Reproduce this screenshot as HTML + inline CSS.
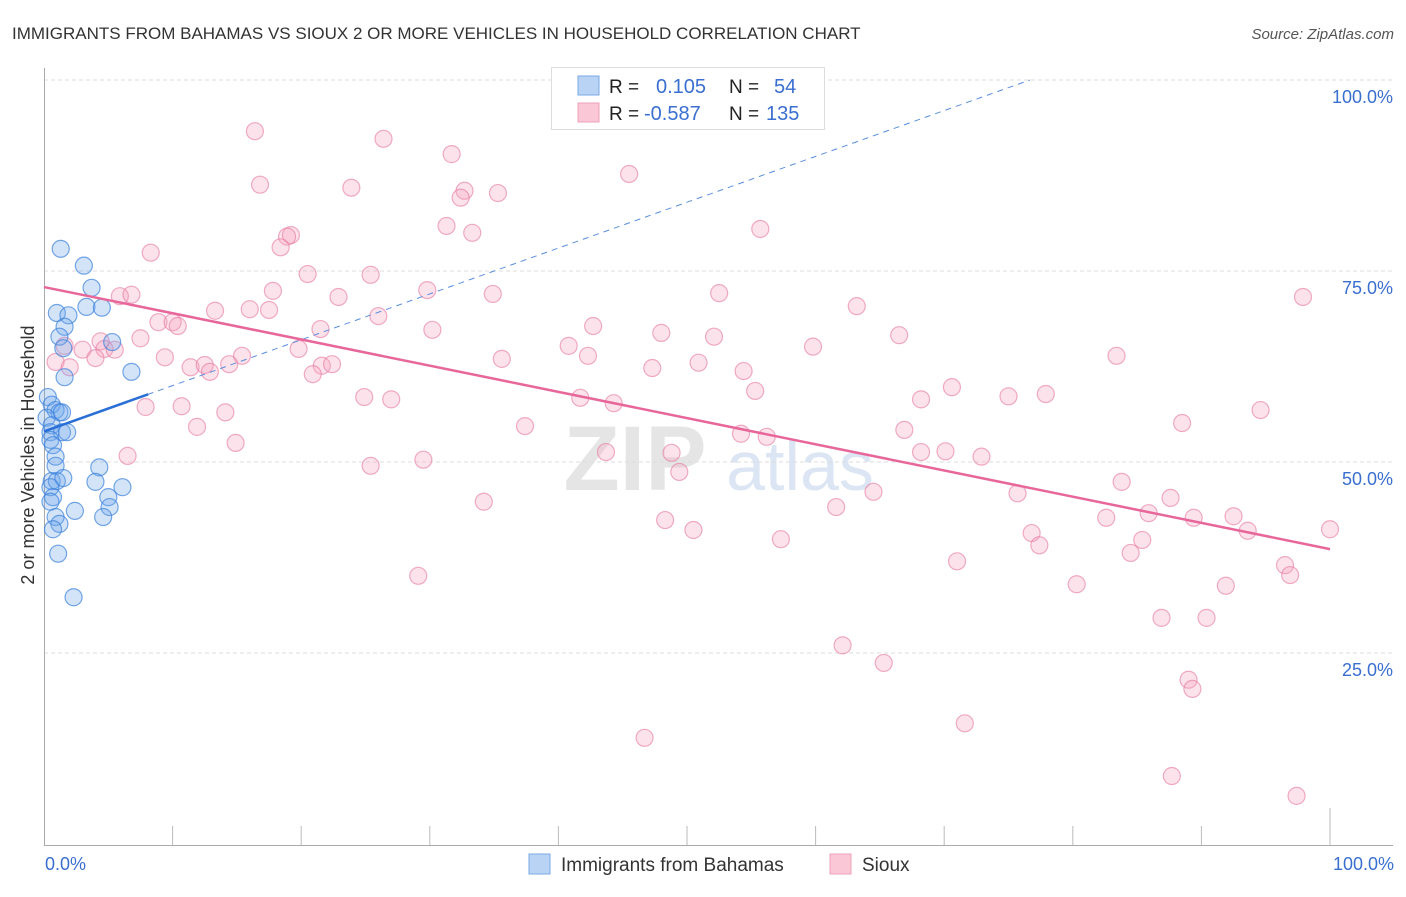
<!DOCTYPE html>
<html><head><meta charset="utf-8"><style>
body{margin:0;background:#fff;font-family:"Liberation Sans",sans-serif}
svg text{font-family:"Liberation Sans",sans-serif}
</style></head><body>
<svg id="chart" width="1406" height="892" viewBox="0 0 1406 892" xmlns="http://www.w3.org/2000/svg">
<text x="12" y="39" font-size="17" fill="#333">IMMIGRANTS FROM BAHAMAS VS SIOUX 2 OR MORE VEHICLES IN HOUSEHOLD CORRELATION CHART</text>
<text x="1394" y="39" font-size="15" fill="#555" font-style="italic" text-anchor="end">Source: ZipAtlas.com</text>
<g opacity="0.5">
<text x="635" y="490" font-size="92" font-family="Liberation Serif" fill="#ccc" font-weight="bold" text-anchor="middle">ZIP</text>
<text x="800" y="490" font-size="70" fill="#b8cde8" text-anchor="middle">atlas</text>
</g>
<g id="grid"></g>
<g id="axes"></g>
<g id="pts"></g>
<g id="trend"></g>
<text transform="translate(34,455) rotate(-90)" font-size="18" fill="#333" text-anchor="middle">2 or more Vehicles in Household</text>
<text x="45" y="870" font-size="18" fill="#3a6fd0">0.0%</text>
<text x="1394" y="870" font-size="18" fill="#3a6fd0" text-anchor="end">100.0%</text>
<g>
<rect x="551.5" y="67.5" width="273" height="62" fill="#fff" stroke="#ddd"/>
<rect x="578" y="76" width="21" height="19" fill="#b9d3f5" stroke="#7aa8e6"/>
<rect x="578" y="103" width="21" height="19" fill="#fac7d6" stroke="#eea0b8"/>
<text x="609" y="93" font-size="19" fill="#222">R =</text>
<text x="656" y="93" font-size="20" fill="#3a6fd0">0.105</text>
<text x="729" y="93" font-size="19" fill="#222">N =</text>
<text x="774" y="93" font-size="20" fill="#3a6fd0">54</text>
<text x="609" y="120" font-size="19" fill="#222">R =</text>
<text x="644" y="120" font-size="20" fill="#3a6fd0">-0.587</text>
<text x="729" y="120" font-size="19" fill="#222">N =</text>
<text x="766" y="120" font-size="20" fill="#3a6fd0">135</text>
</g>
<g>
<rect x="529" y="854" width="21" height="20" fill="#b9d3f5" stroke="#7aa8e6"/>
<text x="561" y="871" font-size="19" fill="#333">Immigrants from Bahamas</text>
</g>
<g>
<rect x="830" y="854" width="21" height="20" fill="#fac7d6" stroke="#eea0b8"/>
<text x="862" y="871" font-size="19" fill="#333">Sioux</text>
</g>
</svg>
<script>
const yTicks=[25,50,75,100];
const yTickLabels=["25.0%","50.0%","75.0%","100.0%"];
const blueX=[1.3,3.1,3.7,3.3,4.5,1.0,1.9,1.6,1.2,5.3,1.5,1.6,6.8,0.3,0.6,0.9,1.2,0.2,1.4,0.6,0.5,1.4,1.8,0.5,0.7,0.9,4.3,0.9,0.6,1.0,1.5,4.0,6.1,0.5,0.7,0.5,5.0,5.1,2.4,0.9,4.6,1.2,0.7,1.1,2.3];
const blueY=[77.9,75.7,72.8,70.3,70.2,69.5,69.2,67.7,66.4,65.7,64.9,61.1,61.8,58.5,57.5,56.8,56.5,55.8,56.5,54.8,53.9,53.9,53.9,52.9,52.2,50.7,49.3,49.5,47.5,47.5,47.9,47.4,46.7,46.7,45.4,44.8,45.4,44.1,43.6,42.8,42.8,41.9,41.2,38.0,32.3];
const pinkX=[16.4,26.4,31.7,45.5,16.8,23.9,32.7,35.3,32.4,31.3,33.3,55.7,19.2,18.9,18.4,8.3,20.5,25.4,29.8,17.8,5.9,6.8,22.9,34.9,52.5,97.9,63.2,13.3,16.0,17.5,26.0,8.9,10.0,10.4,21.5,30.2,42.7,48.0,52.1,66.5,7.5,4.4,1.6,3.0,4.7,5.5,19.8,40.8,59.8,42.3,83.4,9.4,15.4,0.9,2.0,4.0,11.4,12.5,12.9,14.4,21.6,22.4,35.6,47.3,50.9,54.4,20.9,70.6,55.3,24.9,27.0,68.2,75.0,77.9,44.3,7.9,10.7,14.1,41.7,94.6,37.4,11.9,66.9,88.5,54.2,56.2,14.9,25.4,29.5,43.7,68.2,70.1,72.9,6.5,48.8,49.4,83.8,64.5,75.7,34.2,87.6,82.6,85.9,92.5,89.4,48.3,50.5,61.6,93.6,100.0,76.8,77.4,57.3,85.4,84.5,71.0,96.5,96.9,29.1,80.3,91.9,86.9,90.4,62.1,65.3,89.0,89.3,71.6,46.7,87.7,97.4];
const pinkY=[93.3,92.3,90.3,87.7,86.3,85.9,85.5,85.2,84.6,80.9,80.0,80.5,79.7,79.5,78.1,77.4,74.6,74.5,72.5,72.4,71.7,71.9,71.6,72.0,72.1,71.6,70.4,69.8,70.0,69.9,69.1,68.3,68.3,67.8,67.4,67.3,67.8,66.9,66.4,66.6,66.2,65.8,65.2,64.7,64.8,64.7,64.8,65.2,65.1,63.9,63.9,63.7,63.9,63.1,62.4,63.6,62.4,62.7,61.8,62.8,62.6,62.8,63.5,62.3,63.0,61.9,61.5,59.8,59.3,58.5,58.2,58.2,58.6,58.9,57.7,57.2,57.3,56.5,58.4,56.8,54.7,54.6,54.2,55.1,53.7,53.3,52.5,49.5,50.3,51.3,51.3,51.4,50.7,50.8,51.2,48.7,47.4,46.1,45.9,44.8,45.3,42.7,43.3,42.9,42.7,42.4,41.1,44.1,41.0,41.2,40.7,39.1,39.9,39.8,38.1,37.0,36.5,35.2,35.1,34.0,33.8,29.6,29.6,26.0,23.7,21.5,20.3,15.8,13.9,8.9,6.3];
const pinkTrend=[72.9,38.6];   // y at x=0 and x=100
const blueTrend=[54.0,0.6];    // intercept, slope
const blueSolidEnd=8.1;

const NS="http://www.w3.org/2000/svg";
const X0=44,X1=1330,Y0=844,Y100=80;
const sx=v=>X0+(X1-X0)*v/100;
const sy=v=>Y0-(Y0-Y100)*v/100;
function mk(tag,attrs,parent){const e=document.createElementNS(NS,tag);for(const k in attrs)e.setAttribute(k,attrs[k]);parent.appendChild(e);return e;}
const grid=document.getElementById('grid'),axes=document.getElementById('axes'),pts=document.getElementById('pts'),trend=document.getElementById('trend');
yTicks.forEach((t,i)=>{
  const l=mk('line',{x1:X0,x2:1393,y1:sy(t),y2:sy(t),stroke:'#ddd','stroke-dasharray':'4,3'},grid);
  
  
  const tx=mk('text',{x:1393,y:sy(t)+23,'font-size':18,fill:'#3a6fd0','text-anchor':'end'},grid);
  tx.textContent=yTickLabels[i];
  
  
});
const ya=mk('line',{x1:44.5,x2:44.5,y1:68,y2:845,stroke:'#aaa'},axes);


const xa=mk('line',{x1:44,x2:1393,y1:845.5,y2:845.5,stroke:'#aaa'},axes);


for(let i=1;i<=10;i++){
  const t=mk('line',{x1:sx(i*10),x2:sx(i*10),y1:i==10?808:826,y2:845,stroke:'#bbb'},axes);
  
  
}
pinkX.forEach((x,i)=>{
  const c=mk('circle',{cx:sx(x),cy:sy(pinkY[i]),r:8.5,fill:'rgba(245,160,190,0.3)',stroke:'rgba(230,120,160,0.6)','stroke-width':1.2},pts);
  
  
});
blueX.forEach((x,i)=>{
  const c=mk('circle',{cx:sx(x),cy:sy(blueY[i]),r:8.5,fill:'rgba(110,165,235,0.3)',stroke:'rgba(60,130,220,0.7)','stroke-width':1.2},pts);
  
  
});
const xEnd=(100-blueTrend[0])/blueTrend[1];
const bd=mk('line',{x1:sx(0),y1:sy(blueTrend[0]),x2:sx(xEnd),y2:sy(100),stroke:'#5a8fdc','stroke-width':1,'stroke-dasharray':'6,5'},trend);


const bs=mk('line',{x1:sx(0),y1:sy(blueTrend[0]),x2:sx(blueSolidEnd),y2:sy(blueTrend[0]+blueTrend[1]*blueSolidEnd),stroke:'#2a6fd6','stroke-width':2.5},trend);


const pl=mk('line',{x1:sx(0),y1:sy(pinkTrend[0]),x2:sx(100),y2:sy(pinkTrend[1]),stroke:'#e8679a','stroke-width':2.5},trend);


</script>
</body></html>
